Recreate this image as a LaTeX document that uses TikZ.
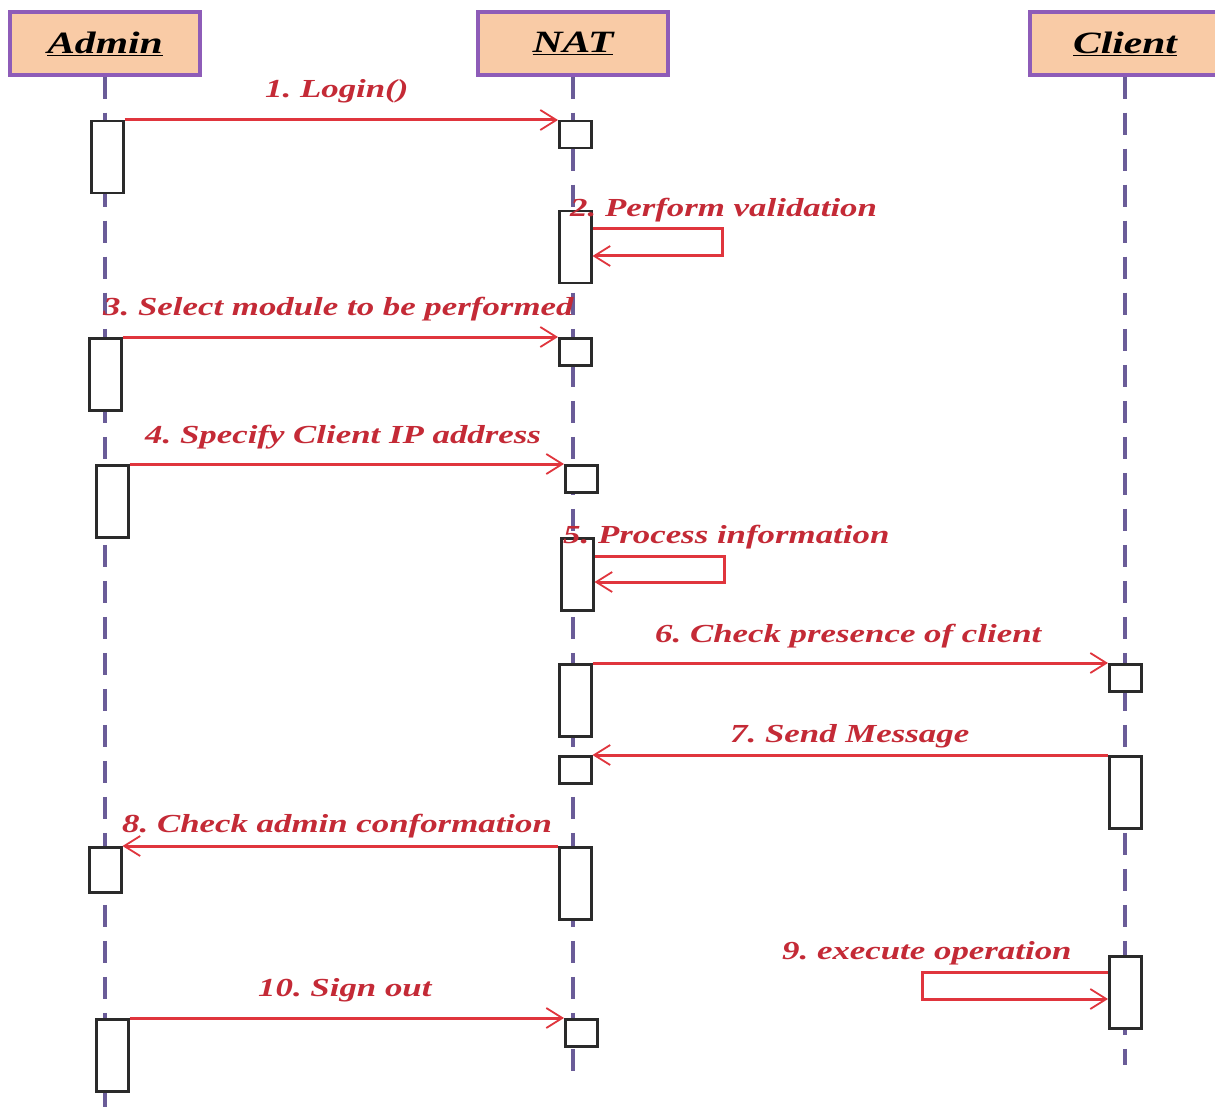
\documentclass[tikz,border=0pt]{standalone}
\usepackage{fontspec}
\setmainfont{Liberation Serif}
\newfontfamily\msgfont[FakeStretch=1.34]{Liberation Serif}
\usetikzlibrary{arrows.meta,calc}
\definecolor{headfill}{HTML}{F9CBA6}
\definecolor{headdraw}{HTML}{8E5CB8}
\definecolor{lifeclr}{HTML}{6A5C98}
\definecolor{msgred}{HTML}{E0353D}
\definecolor{txtred}{HTML}{C42A36}
\definecolor{actdraw}{HTML}{2A2A2A}
\frenchspacing
\begin{document}
\begin{tikzpicture}[x=1pt,y=-1pt,
  head/.style={draw=headdraw,fill=headfill,line width=3.5pt,minimum width=190pt,
    minimum height=63pt,inner sep=0pt,
    font=\msgfont\bfseries\itshape\fontsize{31}{36}\selectfont},
  life/.style={draw=lifeclr,line width=3.5pt,dash pattern=on 22pt off 14pt},
  act/.style={draw=actdraw,fill=white,line width=2.5pt,inner sep=0pt,
    minimum width=32pt,anchor=north west},
  shortact/.style={act,minimum height=27pt},
  longact/.style={act,minimum height=72pt},
  msg/.style={draw=msgred,line width=3pt,
    -{Straight Barb[length=16pt,width=20pt,line width=1.8pt]}},
  lbl/.style={text=txtred,inner sep=0pt,anchor=base west,
    font=\msgfont\bfseries\itshape\fontsize{26}{30}\selectfont}]
\useasboundingbox (0,0) rectangle (1215,1115);
\fill[white] (0,0) rectangle (1215,1115);

% lifeline ends
\coordinate (adminEnd) at (105,1115);
\coordinate (natEnd) at (573,1082);
\coordinate (clientEnd) at (1125,1065);

% object headers
\node[head] (admin) at (105,43.5) {\underline{Admin}};
\node[head] (nat) at (573,43.5) {\underline{NAT}};
\node[head] (client) at (1125,43.5) {\underline{Client}};

% lifelines
\draw[life] (admin.south) -- (adminEnd);
\draw[life] (nat.south) -- (natEnd);
\draw[life] (client.south) -- (clientEnd);

% activation bars: Admin
\node[longact] (a1) at (90,120) {};
\node[longact] (a3) at (88,337) {};
\node[longact] (a4) at (95,464) {};
\node[act,minimum height=45pt] (a8) at (88,846) {};
\node[longact] (a10) at (95,1018) {};
% activation bars: NAT
\node[shortact] (n1) at (558,120) {};
\node[longact] (n2) at (558,210) {};
\node[shortact] (n3) at (558,337) {};
\node[shortact] (n4) at (564,464) {};
\node[longact] (n5) at (560,537) {};
\node[longact] (n6) at (558,663) {};
\node[shortact] (n7) at (558,755) {};
\node[longact] (n8) at (558,846) {};
\node[shortact] (n10) at (564,1018) {};
% activation bars: Client
\node[shortact] (c6) at (1108,663) {};
\node[longact] (c7) at (1108,755) {};
\node[longact] (c9) at (1108,955) {};

% messages
\draw[msg] (a1.north east) -- (n1.north west);
\draw[msg] ($(n2.north east)+(0,19)$) -- ++(130,0) -- ++(0,27) -- ($(n2.north east)+(0,46)$);
\draw[msg] (a3.north east) -- (n3.north west);
\draw[msg] (a4.north east) -- (n4.north west);
\draw[msg] ($(n5.north east)+(0,19)$) -- ++(130,0) -- ++(0,26) -- ($(n5.north east)+(0,45)$);
\draw[msg] (n6.north east) -- (c6.north west);
\draw[msg] (c7.north west) -- (n7.north east);
\draw[msg] (n8.north west) -- (a8.north east);
\draw[msg] ($(c9.north west)+(0,17)$) -- ++(-186,0) -- ++(0,27) -- ($(c9.north west)+(0,44)$);
\draw[msg] (a10.north east) -- (n10.north west);

% message labels
\node[lbl] (l1) at (265,98) {1. Login()};
\node[lbl] (l2) at (570,217) {2. Perform validation};
\node[lbl] (l3) at (103,316) {3. Select module to be performed};
\node[lbl] (l4) at (145,443) {4. Specify Client IP address};
\node[lbl] (l5) at (563,543) {5. Process information};
\node[lbl] (l6) at (655,642) {6. Check presence of client};
\node[lbl] (l7) at (730,742) {7. Send Message};
\node[lbl] (l8) at (122,832) {8. Check admin conformation};
\node[lbl] (l9) at (782,959) {9. execute operation};
\node[lbl] (l10) at (258,996) {10. Sign out};
\end{tikzpicture}
\end{document}
